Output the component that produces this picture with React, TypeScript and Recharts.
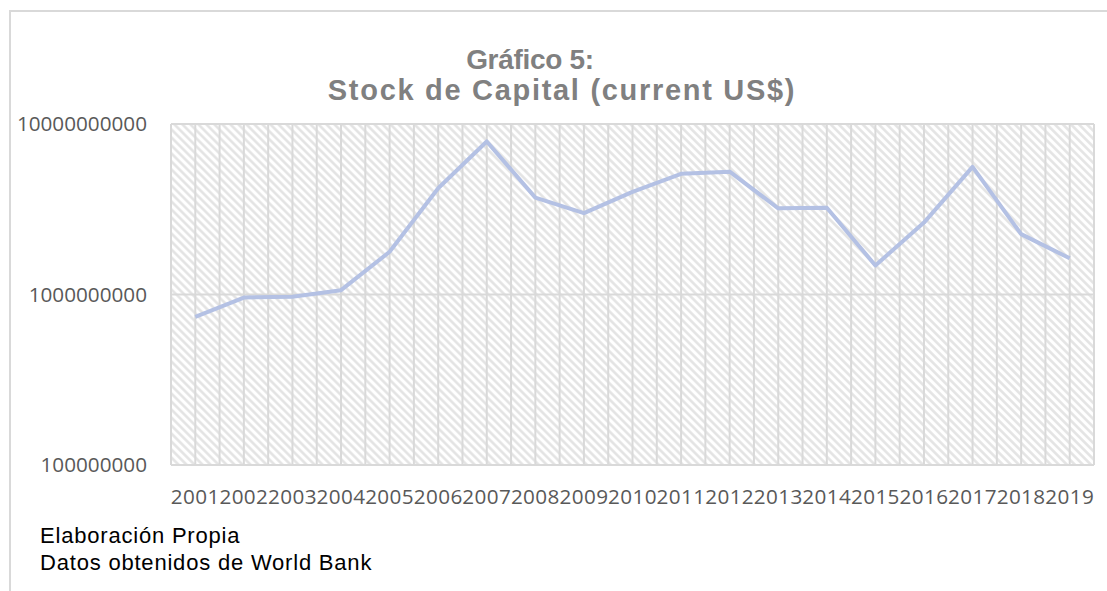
import React from 'react';
import { LineChart, Line, XAxis, YAxis, CartesianGrid } from 'recharts';

const years = ['2001','2002','2003','2004','2005','2006','2007','2008','2009','2010','2011','2012','2013','2014','2015','2016','2017','2018','2019'];
const stockCapital = [7.4e8, 9.6e8, 9.7e8, 1.06e9, 1.78e9, 4.2e9, 7.9e9, 3.7e9, 3.0e9, 4.0e9, 5.1e9, 5.25e9, 3.2e9, 3.23e9, 1.48e9, 2.64e9, 5.6e9, 2.26e9, 1.63e9];
const yTicks = [1e8, 1e9, 1e10];
const titleLines = ['Gráfico 5:', 'Stock de Capital (current US$)'];
const footerLines = ['Elaboración Propia', 'Datos obtenidos de World Bank'];

const data = years.map((y, i) => ({ x: i + 1, year: y, v: stockCapital[i] }));
const xTicks: number[] = [];
for (let k = 0; k <= years.length * 2; k++) xTicks.push(0.5 + k * 0.5);

const yTickFont = { fontFamily: '"Open Sans", sans-serif', fontSize: 20.7, fill: '#595959' };
const xTickFont = { fontFamily: '"Open Sans", sans-serif', fontSize: 20.7, fill: '#595959', letterSpacing: 0.4 };

export default function App() {
  return (
    <div style={{ position: 'absolute', left: 0, top: 0, width: 1107, height: 591, background: '#fff', overflow: 'hidden' }}>
      <svg width={0} height={0} style={{ position: 'absolute' }}>
        <defs>
          <pattern id="hatch" width={5.66} height={5.66} patternUnits="userSpaceOnUse" patternTransform="rotate(-45)">
            <rect x={0} y={0} width={5.66} height={5.66} fill="#ffffff" />
            <line x1={1.4} y1={0} x2={1.4} y2={5.66} stroke="#e3e3e3" strokeWidth={2.5} />
          </pattern>
        </defs>
      </svg>
      <div style={{ position: 'absolute', left: 10, top: 10, width: 1097, height: 2, background: '#d9d9d9' }} />
      <div style={{ position: 'absolute', left: 9, top: 10, width: 2, height: 581, background: '#d9d9d9' }} />
      <LineChart width={1107} height={591} data={data} margin={{ top: 124, right: 13, bottom: 96, left: 0 }}>
        <CartesianGrid stroke="#d9d9d9" strokeWidth={2} fill="url(#hatch)" fillOpacity={1} />
        <XAxis
          dataKey="x"
          type="number"
          domain={[0.5, years.length + 0.5]}
          ticks={xTicks}
          interval={0}
          height={30}
          tickLine={false}
          axisLine={false}
          tickSize={0}
          tickMargin={24}
          tick={xTickFont}
          tickFormatter={(v: number) => (Number.isInteger(v) ? years[v - 1] : '')}
        />
        <YAxis
          scale="log"
          domain={[1e8, 1e10]}
          ticks={yTicks}
          width={171}
          tickLine={false}
          axisLine={false}
          tickSize={0}
          tickMargin={24}
          tick={yTickFont}
          allowDataOverflow
          tickFormatter={(v: number) => v.toFixed(0)}
        />
        <Line type="linear" dataKey="v" stroke="#b4c1e4" strokeWidth={4} dot={false} isAnimationActive={false} strokeLinejoin="round" />
      </LineChart>
      <div style={{ position: 'absolute', left: 530, top: 60, transform: 'translate(-50%, -50%)', whiteSpace: 'nowrap', fontFamily: '"Liberation Sans", Arial, sans-serif', fontWeight: 'bold', fontSize: 28, color: '#808080', lineHeight: '30px', letterSpacing: -0.3 }}>{titleLines[0]}</div>
      <div style={{ position: 'absolute', left: 562, top: 90, transform: 'translate(-50%, -50%)', whiteSpace: 'nowrap', fontFamily: '"Liberation Sans", Arial, sans-serif', fontWeight: 'bold', fontSize: 29, color: '#808080', lineHeight: '30px', letterSpacing: 1.7 }}>{titleLines[1]}</div>
      <div style={{ position: 'absolute', left: 40, top: 522, fontFamily: '"Liberation Sans", Arial, sans-serif', fontSize: 22, color: '#000', lineHeight: '27px', whiteSpace: 'nowrap', letterSpacing: 0.8 }}>
        <div>{footerLines[0]}</div>
        <div>{footerLines[1]}</div>
      </div>
    </div>
  );
}
